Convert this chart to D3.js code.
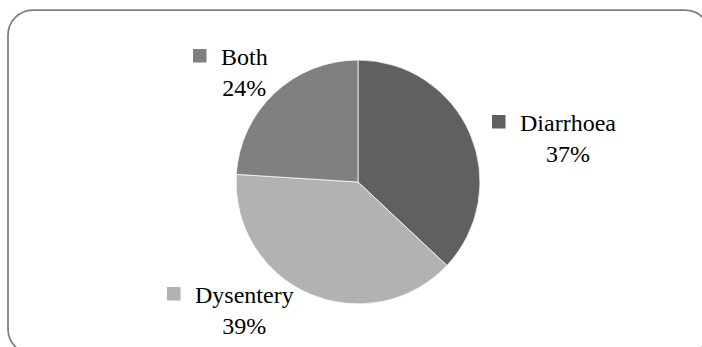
<!DOCTYPE html>
<html>
<head>
<meta charset="utf-8">
<script src="https://cdn.jsdelivr.net/npm/d3@7"></script>
<style>
  html, body { margin: 0; padding: 0; background: #fff; }
  svg { display: block; }
  .lbl { font-family: "Liberation Serif", "Times New Roman", Times, serif; font-size: 24px; fill: #000; }
</style>
</head>
<body>
<svg id="chart" width="702" height="347"></svg>
<script>
// Share of cases by diagnosis
const categories = ["Diarrhoea", "Dysentery", "Both"];
const values = [37, 39, 24];
const colors = ["#606060", "#b2b2b2", "#808080"];

const svg = d3.select("#chart");

// Rounded frame around the chart area
svg.append("rect")
  .attr("x", 8).attr("y", 10)
  .attr("width", 702).attr("height", 344)
  .attr("rx", 25).attr("ry", 25)
  .attr("fill", "#fff")
  .attr("stroke", "#7f7f7f")
  .attr("stroke-width", 1.75);

const cx = 358, cy = 182, r = 122;

const data = categories.map((c, i) => ({ name: c, value: values[i], color: colors[i] }));

const pie = d3.pie().sort(null).value(d => d.value);
const arc = d3.arc().innerRadius(0).outerRadius(r);

const g = svg.append("g").attr("transform", `translate(${cx},${cy})`);
g.selectAll("path")
  .data(pie(data))
  .join("path")
  .attr("d", arc)
  .attr("fill", d => d.data.color)
  .attr("stroke", "#ffffff")
  .attr("stroke-width", 0.75);

// Labels: swatch + category name, with the percentage centred beneath the name
const labelPos = {
  "Diarrhoea": { x: 520, y: 131 },
  "Dysentery": { x: 195, y: 303 },
  "Both":      { x: 221, y: 65 }
};

data.forEach(d => {
  const p = labelPos[d.name];
  const lg = svg.append("g");
  const t = lg.append("text")
    .attr("class", "lbl")
    .attr("x", p.x).attr("y", p.y)
    .text(d.name);
  const w = t.node().getComputedTextLength();
  lg.append("rect")
    .attr("x", p.x - 28).attr("y", p.y - 16)
    .attr("width", 13.5).attr("height", 13.5)
    .attr("fill", d.color);
  lg.append("text")
    .attr("class", "lbl")
    .attr("x", p.x + w / 2).attr("y", p.y + 30.5)
    .attr("text-anchor", "middle")
    .text(d.value + "%");
});
</script>
</body>
</html>
